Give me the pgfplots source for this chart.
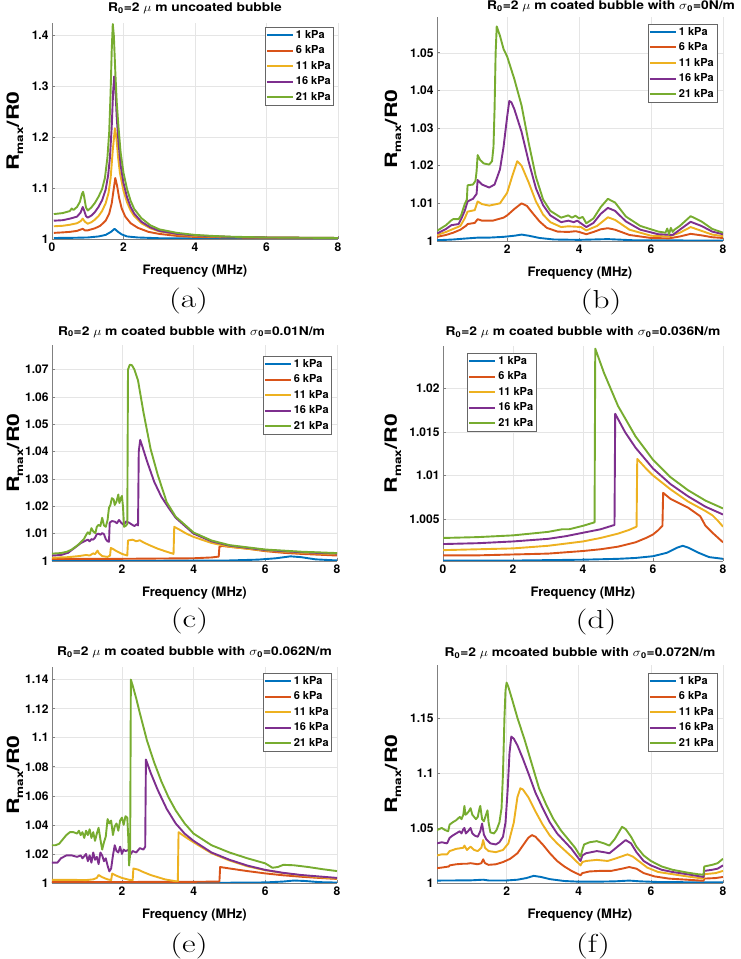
\documentclass[border=0pt]{standalone}
\usepackage{fontspec}
\setsansfont{TeX Gyre Heros}
\usepackage{graphicx}
\usepackage{pgfplots}
\pgfplotsset{compat=1.18}

\definecolor{c1}{rgb}{0,0.447,0.741}
\definecolor{c2}{rgb}{0.850,0.325,0.098}
\definecolor{c3}{rgb}{0.929,0.694,0.125}
\definecolor{c4}{rgb}{0.494,0.184,0.556}
\definecolor{c5}{rgb}{0.466,0.674,0.188}

\newcommand{\mf}[1]{\fontsize{#1}{#1}\selectfont\sffamily\bfseries}
\newcommand{\sub}[1]{\textsubscript{#1}}
\newcommand{\ttl}[1]{\scalebox{1.15}[1]{#1}}

\pgfplotsset{
  mat/.style={
    scale only axis,
    axis x line*=bottom, axis y line*=left,
    axis line style={black!50, line width=0.6pt},
    tick style={black!50, line width=0.6pt},
    tick align=inside, major tick length=3pt,
    grid=major, grid style={black!10, line width=0.5pt},
    xmax=8, scaled ticks=false,
    ticklabel style={font=\mf{12}},
    /pgf/number format/assume math mode=true,
    /pgf/number format/fixed,
    /pgf/number format/precision=3,
    xlabel={Frequency (MHz)},
    ylabel={\scalebox{1.35}[1]{R\raisebox{-0.45ex}{\fontsize{10}{10}\selectfont max}/R0}},
    xlabel style={font=\mf{13}, at={(axis description cs:0.5,0)}, anchor=center, yshift=-32pt},
    ylabel style={font=\mf{17}, anchor=center},
    title style={font=\mf{12}, at={(axis description cs:0.5,1)}, anchor=base, yshift=4pt},
    legend cell align=left,
    legend style={font=\mf{11}, draw=black!60, line width=0.5pt, inner sep=1pt, row sep=2pt},
    legend image code/.code={\draw[#1, line width=2pt] (0pt,0pt) -- (26pt,0pt);},
  },
  s1/.style={c1, line width=1.9pt, line join=round},
  s2/.style={c2, line width=1.9pt, line join=round},
  s3/.style={c3, line width=1.9pt, line join=round},
  s4/.style={c4, line width=1.9pt, line join=round},
  s5/.style={c5, line width=1.9pt, line join=round},
}

\begin{document}
\begin{tikzpicture}
\useasboundingbox (0pt,0pt) rectangle (740pt,959pt);

% ---------------- (a)
\begin{axis}[mat, at={(52pt,720pt)}, anchor=south west, width=286pt, height=216pt,
  xmin=0, ymin=1, ymax=1.425, xtick={0,2,4,6,8}, ytick={1,1.1,1.2,1.3,1.4},
  title={\ttl{R\sub{0}=2 $\mu$ m uncoated bubble}},
  title style={yshift=1pt},
  ylabel style={at={(axis description cs:-0.13,0.5)}},
  legend style={at={(rel axis cs:0.986,0.981)}, anchor=north east}]
\addplot[s1] coordinates {(0.05,1.002)(0.5,1.0022)(1.0,1.003)(1.3,1.005)(1.5,1.008)(1.65,1.014)(1.75,1.020)(1.85,1.014)(1.95,1.009)(2.1,1.005)(2.4,1.003)(3.0,1.0015)(4.0,1.001)(8.0,1.0005)};
\addplot[s2] coordinates {(0.05,1.012)(0.3,1.013)(0.5,1.014)(0.7,1.016)(0.86,1.020)(0.92,1.017)(1.0,1.017)(1.2,1.021)(1.35,1.026)(1.5,1.036)(1.6,1.05)(1.67,1.07)(1.72,1.095)(1.77,1.12)(1.82,1.105)(1.88,1.08)(1.95,1.06)(2.05,1.044)(2.2,1.031)(2.4,1.022)(2.7,1.014)(3.0,1.010)(3.5,1.006)(4.0,1.004)(5.0,1.003)(8.0,1.0015)};
\addplot[s3] coordinates {(0.05,1.025)(0.3,1.026)(0.5,1.028)(0.7,1.031)(0.8,1.035)(0.86,1.040)(0.92,1.034)(1.0,1.030)(1.1,1.033)(1.2,1.038)(1.3,1.045)(1.4,1.055)(1.5,1.07)(1.58,1.09)(1.64,1.12)(1.7,1.175)(1.76,1.218)(1.8,1.20)(1.85,1.16)(1.9,1.13)(2.0,1.095)(2.1,1.072)(2.2,1.056)(2.3,1.045)(2.5,1.031)(2.75,1.021)(3.0,1.015)(3.5,1.009)(4.0,1.006)(5.0,1.004)(6.0,1.003)(8.0,1.002)};
\addplot[s4] coordinates {(0.05,1.036)(0.3,1.037)(0.5,1.040)(0.6,1.042)(0.7,1.044)(0.8,1.052)(0.86,1.063)(0.9,1.056)(0.95,1.045)(1.0,1.042)(1.1,1.046)(1.2,1.053)(1.3,1.063)(1.4,1.076)(1.5,1.097)(1.57,1.125)(1.62,1.16)(1.67,1.22)(1.71,1.29)(1.74,1.32)(1.77,1.30)(1.81,1.24)(1.86,1.19)(1.92,1.145)(2.0,1.11)(2.1,1.082)(2.2,1.063)(2.3,1.05)(2.5,1.034)(2.75,1.023)(3.0,1.016)(3.5,1.010)(4.0,1.007)(5.0,1.004)(6.0,1.003)(8.0,1.002)};
\addplot[s5] coordinates {(0.05,1.049)(0.3,1.051)(0.5,1.055)(0.55,1.060)(0.6,1.057)(0.7,1.063)(0.78,1.073)(0.84,1.089)(0.87,1.093)(0.9,1.083)(0.95,1.062)(1.0,1.056)(1.1,1.062)(1.2,1.071)(1.3,1.083)(1.4,1.098)(1.48,1.12)(1.55,1.16)(1.6,1.21)(1.64,1.29)(1.67,1.37)(1.7,1.423)(1.73,1.40)(1.77,1.33)(1.81,1.27)(1.86,1.22)(1.92,1.17)(2.0,1.13)(2.1,1.098)(2.2,1.075)(2.3,1.059)(2.5,1.041)(2.75,1.027)(3.0,1.019)(3.5,1.012)(4.0,1.008)(4.5,1.006)(5.0,1.0045)(6.0,1.003)(7.0,1.0025)(8.0,1.002)};
\legend{1 kPa,6 kPa,11 kPa,16 kPa,21 kPa}
\end{axis}

% ---------------- (b)
\begin{axis}[mat, at={(437pt,718pt)}, anchor=south west, width=286pt, height=224pt,
  xmin=0.05, ymin=1, ymax=1.0595, xtick={2,4,6,8}, ytick={1,1.01,1.02,1.03,1.04,1.05},
  title={\ttl{R\sub{0}=2 $\mu$ m coated bubble with $\sigma$\sub{0}=0N/m}},
  title style={yshift=-3pt, xshift=31pt},
  ylabel style={at={(axis description cs:-0.154,0.5)}},
  legend style={at={(rel axis cs:0.979,0.969)}, anchor=north east}]
\addplot[s1] coordinates {(0.05,1.0002)(0.5,1.0004)(0.9,1.0007)(1.2,1.0009)(1.5,1.0009)(1.9,1.0011)(2.2,1.0014)(2.4,1.0017)(2.6,1.0014)(2.9,1.0008)(3.3,1.0004)(4.0,1.0003)(4.8,1.0005)(5.5,1.0002)(8,1.0001)};
\addplot[s2] coordinates {(0.05,1.0011)(0.3,1.0016)(0.5,1.0022)(0.7,1.0030)(0.85,1.0040)(0.9,1.0045)(1.1,1.0048)(1.18,1.0058)(1.3,1.0054)(1.6,1.0054)(1.9,1.0062)(2.0,1.0068)(2.2,1.0085)(2.4,1.0100)(2.55,1.0093)(2.7,1.0075)(2.9,1.0052)(3.1,1.0035)(3.4,1.0025)(3.7,1.0024)(3.9,1.0026)(4.0,1.0024)(4.2,1.0018)(4.4,1.0024)(4.6,1.0031)(4.8,1.0034)(5.0,1.0030)(5.4,1.0016)(6.0,1.0008)(6.5,1.0007)(6.8,1.0012)(7.1,1.0019)(7.4,1.0015)(7.7,1.0010)(8.0,1.0008)};
\addplot[s3] coordinates {(0.05,1.0016)(0.3,1.0024)(0.5,1.0032)(0.7,1.0040)(0.82,1.0060)(0.9,1.0078)(1.1,1.0082)(1.18,1.0105)(1.3,1.0098)(1.5,1.0094)(1.8,1.0100)(2.0,1.0128)(2.15,1.0175)(2.28,1.0212)(2.4,1.0200)(2.6,1.0155)(2.8,1.0105)(3.0,1.0070)(3.2,1.0050)(3.5,1.0037)(3.7,1.0039)(3.9,1.0038)(4.05,1.0037)(4.2,1.0028)(4.5,1.0040)(4.8,1.0063)(5.0,1.0056)(5.4,1.0030)(6.0,1.0014)(6.5,1.0012)(6.8,1.0022)(7.1,1.0037)(7.4,1.0027)(7.7,1.0017)(8.0,1.0013)};
\addplot[s4] coordinates {(0.05,1.0020)(0.3,1.0032)(0.45,1.0042)(0.65,1.0045)(0.72,1.0058)(0.82,1.0080)(0.9,1.0105)(1.05,1.0112)(1.15,1.0125)(1.18,1.0162)(1.3,1.0150)(1.5,1.0142)(1.65,1.0150)(1.8,1.0190)(1.9,1.0250)(2.0,1.0330)(2.06,1.0372)(2.12,1.0368)(2.2,1.0350)(2.4,1.0290)(2.6,1.0210)(2.8,1.0140)(3.0,1.0095)(3.2,1.0068)(3.5,1.0050)(3.7,1.0054)(3.85,1.0050)(3.95,1.0054)(4.05,1.0047)(4.2,1.0037)(4.4,1.0048)(4.6,1.0072)(4.8,1.0088)(5.0,1.0080)(5.3,1.0052)(5.7,1.0030)(6.2,1.0018)(6.6,1.0016)(6.8,1.0030)(7.1,1.0051)(7.4,1.0040)(7.7,1.0025)(8.0,1.0018)};
\addplot[s5] coordinates {(0.05,1.0027)(0.3,1.0042)(0.45,1.0055)(0.5,1.0058)(0.65,1.0058)(0.72,1.0068)(0.82,1.0098)(0.88,1.0110)(0.9,1.0148)(1.05,1.0150)(1.12,1.0160)(1.15,1.0185)(1.18,1.0228)(1.25,1.0215)(1.35,1.0206)(1.5,1.0203)(1.58,1.0212)(1.62,1.0250)(1.65,1.0350)(1.68,1.0500)(1.71,1.0570)(1.8,1.0545)(1.9,1.0510)(2.0,1.0490)(2.2,1.0430)(2.4,1.0360)(2.6,1.0260)(2.8,1.0170)(3.0,1.0110)(3.2,1.0080)(3.5,1.0062)(3.7,1.0068)(3.8,1.0062)(3.9,1.0067)(4.0,1.0060)(4.1,1.0064)(4.2,1.0047)(4.4,1.0060)(4.6,1.0090)(4.8,1.0112)(5.0,1.0102)(5.3,1.0065)(5.7,1.0040)(6.2,1.0025)(6.4,1.0022)(6.45,1.0033)(6.5,1.0018)(6.55,1.0035)(6.6,1.0024)(6.65,1.0030)(6.8,1.0040)(7.1,1.0066)(7.4,1.0052)(7.7,1.0032)(8.0,1.0022)};
\legend{1 kPa,6 kPa,11 kPa,16 kPa,21 kPa}
\end{axis}

% ---------------- (c)
\begin{axis}[mat, at={(52pt,398pt)}, anchor=south west, width=285pt, height=216pt,
  xmin=0.05, ymin=1, ymax=1.079, xtick={2,4,6,8}, ytick={1,1.01,1.02,1.03,1.04,1.05,1.06,1.07},
  title={\ttl{R\sub{0}=2 $\mu$ m coated bubble with $\sigma$\sub{0}=0.01N/m}},
  title style={xshift=-3pt},
  ylabel style={at={(axis description cs:-0.13,0.5)}},
  legend style={at={(rel axis cs:0.982,0.949)}, anchor=north east}]
\addplot[s1] coordinates {(0.05,1.0001)(3,1.0001)(5,1.0002)(5.8,1.0005)(6.3,1.0010)(6.7,1.0017)(7.0,1.0014)(7.4,1.0006)(8,1.0002)};
\addplot[s2] coordinates {(0.05,1.0008)(1.0,1.0008)(2.0,1.0008)(3.0,1.0009)(4.0,1.0010)(4.5,1.0013)(4.7,1.0016)(4.72,1.0052)(4.8,1.0055)(5.0,1.0052)(5.5,1.0045)(6.0,1.0036)(6.5,1.0030)(7.0,1.0026)(8.0,1.0020)};
\addplot[s3] coordinates {(0.05,1.0012)(0.5,1.0014)(0.8,1.0018)(1.0,1.0022)(1.1,1.0020)(1.2,1.0028)(1.25,1.0025)(1.32,1.0038)(1.36,1.0028)(1.45,1.0018)(1.6,1.0015)(1.67,1.0020)(1.69,1.0048)(1.75,1.0044)(1.85,1.0036)(2.0,1.0026)(2.15,1.0020)(2.17,1.0075)(2.3,1.0078)(2.4,1.0072)(2.5,1.0076)(2.6,1.0068)(2.8,1.0056)(3.0,1.0045)(3.2,1.0036)(3.44,1.0026)(3.46,1.0125)(3.6,1.0115)(3.8,1.0100)(4.0,1.0088)(4.5,1.0066)(5.0,1.0052)(6.0,1.0038)(7.0,1.0030)(8.0,1.0025)};
\addplot[s4] coordinates {(0.05,1.0020)(0.3,1.0022)(0.5,1.0030)(0.65,1.0045)(0.75,1.0055)(0.85,1.0065)(0.95,1.0072)(1.05,1.0078)(1.1,1.0072)(1.15,1.0080)(1.2,1.0078)(1.25,1.0085)(1.3,1.0098)(1.35,1.0100)(1.4,1.0096)(1.45,1.0102)(1.5,1.0098)(1.55,1.0080)(1.6,1.0072)(1.64,1.0070)(1.66,1.0140)(1.72,1.0146)(1.8,1.0144)(1.86,1.0138)(1.92,1.0150)(1.98,1.0140)(2.05,1.0132)(2.12,1.0145)(2.2,1.0140)(2.28,1.0133)(2.35,1.0128)(2.42,1.0135)(2.45,1.0130)(2.47,1.0400)(2.51,1.0443)(2.58,1.0415)(2.7,1.0365)(2.9,1.0290)(3.1,1.0235)(3.3,1.0195)(3.5,1.0158)(4.0,1.0100)(4.5,1.0072)(5.0,1.0056)(6.0,1.0040)(7.0,1.0032)(8.0,1.0027)};
\addplot[s5] coordinates {(0.05,1.0027)(0.3,1.0029)(0.47,1.0034)(0.6,1.0042)(0.74,1.0055)(0.85,1.0068)(0.95,1.0082)(1.0,1.0095)(1.05,1.0105)(1.1,1.0098)(1.15,1.0120)(1.2,1.0108)(1.26,1.0102)(1.3,1.0125)(1.35,1.0132)(1.4,1.0128)(1.45,1.0158)(1.5,1.0130)(1.55,1.0125)(1.6,1.0150)(1.64,1.0195)(1.68,1.0205)(1.72,1.0230)(1.77,1.0225)(1.8,1.0205)(1.85,1.0218)(1.9,1.0243)(1.93,1.0212)(1.97,1.0230)(2.0,1.0238)(2.03,1.0200)(2.06,1.0125)(2.1,1.0128)(2.15,1.0135)(2.17,1.0700)(2.22,1.0718)(2.28,1.0716)(2.35,1.0700)(2.45,1.0660)(2.6,1.0545)(2.8,1.0410)(3.0,1.0315)(3.25,1.0215)(3.5,1.0162)(4.0,1.0104)(4.5,1.0075)(5.0,1.0058)(6.0,1.0042)(7.0,1.0034)(8.0,1.0029)};
\legend{1 kPa,6 kPa,11 kPa,16 kPa,21 kPa}
\end{axis}

% ---------------- (d)
\begin{axis}[mat, at={(443pt,398pt)}, anchor=south west, width=280pt, height=215pt,
  xmin=0, ymin=1.00015, ymax=1.0249, xtick={0,2,4,6,8}, ytick={1.005,1.01,1.015,1.02},
  title={\ttl{R\sub{0}=2 $\mu$ m coated bubble with $\sigma$\sub{0}=0.036N/m}},
  ylabel style={at={(axis description cs:-0.179,0.5)}},
  legend style={at={(rel axis cs:0.086,0.967)}, anchor=north west}]
\addplot[s1] coordinates {(0,1.0002)(2,1.0002)(4,1.0003)(5,1.0004)(5.5,1.0005)(6.0,1.0007)(6.4,1.0011)(6.7,1.0017)(6.85,1.0019)(7.0,1.0017)(7.3,1.0011)(7.6,1.0006)(8.0,1.0004)};
\addplot[s2] coordinates {(0,1.0008)(1,1.0008)(2,1.0009)(3,1.0010)(4,1.0013)(4.5,1.0015)(5.0,1.0018)(5.5,1.0023)(5.8,1.0028)(6.0,1.0032)(6.15,1.0037)(6.27,1.0042)(6.29,1.0080)(6.5,1.0073)(7.0,1.0063)(7.35,1.0053)(7.5,1.0042)(7.7,1.0034)(8.0,1.0023)};
\addplot[s3] coordinates {(0,1.0014)(1,1.0015)(2,1.0016)(3,1.0019)(4,1.0024)(4.5,1.0028)(5.0,1.0033)(5.3,1.0037)(5.53,1.0041)(5.55,1.0119)(5.8,1.0108)(6.0,1.0100)(6.5,1.0084)(7.0,1.0070)(7.5,1.0059)(7.7,1.0054)(7.85,1.0048)(8.0,1.0041)};
\addplot[s4] coordinates {(0,1.0021)(1,1.0022)(2,1.0024)(3,1.0027)(3.5,1.0030)(4.0,1.0034)(4.5,1.0038)(4.9,1.0043)(4.92,1.0171)(5.2,1.0150)(5.5,1.0132)(6.0,1.0108)(6.5,1.0090)(7.0,1.0076)(7.5,1.0064)(8.0,1.0055)};
\addplot[s5] coordinates {(0,1.0028)(1,1.0029)(2,1.0031)(2.5,1.0033)(3.0,1.0035)(3.4,1.0038)(3.6,1.0038)(4.0,1.0042)(4.33,1.0046)(4.35,1.0246)(4.6,1.0218)(5.0,1.0180)(5.5,1.0145)(6.0,1.0118)(6.5,1.0098)(7.0,1.0083)(7.5,1.0071)(8.0,1.0062)};
\legend{1 kPa,6 kPa,11 kPa,16 kPa,21 kPa}
\end{axis}

% ---------------- (e)
\begin{axis}[mat, at={(52pt,76pt)}, anchor=south west, width=285pt, height=216pt,
  xmin=0.05, ymin=1, ymax=1.1487, xtick={2,4,6,8}, ytick={1,1.02,1.04,1.06,1.08,1.1,1.12,1.14},
  title={\ttl{R\sub{0}=2 $\mu$ m coated bubble with $\sigma$\sub{0}=0.062N/m}},
  title style={yshift=1pt},
  ylabel style={at={(axis description cs:-0.13,0.5)}},
  legend style={at={(rel axis cs:0.982,0.972)}, anchor=north east}]
\addplot[s1] coordinates {(0.05,1.0002)(5,1.0002)(6.0,1.0004)(6.5,1.0010)(6.8,1.0017)(7.1,1.0014)(7.5,1.0006)(8,1.0003)};
\addplot[s2] coordinates {(0.05,1.0007)(2,1.0007)(4,1.0008)(4.72,1.0010)(4.74,1.0110)(5.0,1.0100)(5.5,1.0082)(6.0,1.0066)(6.5,1.0053)(7.0,1.0043)(7.5,1.0035)(8.0,1.0028)};
\addplot[s3] coordinates {(0.05,1.0022)(0.5,1.0022)(1.0,1.0020)(1.2,1.0025)(1.3,1.0035)(1.35,1.0055)(1.45,1.0040)(1.6,1.0025)(1.7,1.0020)(1.73,1.0065)(1.85,1.0050)(2.0,1.0035)(2.2,1.0022)(2.3,1.0020)(2.32,1.0100)(2.45,1.0092)(2.6,1.0075)(2.8,1.0055)(3.0,1.0040)(3.2,1.0025)(3.5,1.0012)(3.56,1.0012)(3.58,1.0350)(3.75,1.0320)(4.0,1.0280)(4.5,1.0205)(5.0,1.0155)(5.5,1.0115)(6.0,1.0088)(6.5,1.0068)(7.0,1.0052)(7.5,1.0040)(8.0,1.0030)};
\addplot[s4] coordinates {(0.05,1.014)(0.2,1.014)(0.3,1.017)(0.45,1.019)(0.6,1.019)(0.75,1.018)(0.85,1.019)(0.9,1.017)(1.0,1.020)(1.05,1.015)(1.1,1.019)(1.15,1.014)(1.2,1.021)(1.25,1.016)(1.3,1.018)(1.35,1.013)(1.4,1.021)(1.45,1.019)(1.5,1.015)(1.55,1.017)(1.6,1.012)(1.65,1.008)(1.7,1.010)(1.75,1.019)(1.8,1.026)(1.85,1.022)(1.9,1.021)(1.95,1.025)(2.0,1.020)(2.05,1.023)(2.1,1.022)(2.2,1.023)(2.25,1.020)(2.3,1.022)(2.4,1.021)(2.5,1.024)(2.6,1.023)(2.65,1.025)(2.67,1.085)(2.8,1.076)(3.0,1.064)(3.25,1.051)(3.5,1.041)(3.75,1.034)(4.0,1.029)(4.5,1.021)(5.0,1.016)(5.5,1.012)(6.0,1.009)(6.5,1.007)(7.0,1.0055)(7.5,1.0045)(8.0,1.0035)};
\addplot[s5] coordinates {(0.05,1.026)(0.15,1.026)(0.25,1.027)(0.35,1.030)(0.45,1.033)(0.55,1.035)(0.65,1.035)(0.75,1.034)(0.8,1.036)(0.85,1.033)(0.9,1.035)(0.95,1.031)(1.0,1.036)(1.05,1.033)(1.1,1.037)(1.15,1.031)(1.2,1.035)(1.25,1.029)(1.3,1.034)(1.35,1.038)(1.4,1.030)(1.45,1.023)(1.5,1.028)(1.55,1.032)(1.6,1.044)(1.65,1.041)(1.7,1.043)(1.75,1.033)(1.8,1.039)(1.85,1.041)(1.9,1.036)(1.95,1.043)(2.0,1.045)(2.05,1.040)(2.1,1.046)(2.15,1.045)(2.18,1.030)(2.2,1.012)(2.23,1.020)(2.25,1.140)(2.3,1.136)(2.4,1.127)(2.5,1.117)(2.7,1.098)(2.9,1.083)(3.1,1.070)(3.3,1.059)(3.5,1.050)(3.75,1.041)(4.0,1.034)(4.5,1.026)(5.0,1.021)(5.5,1.017)(6.0,1.0135)(6.2,1.0105)(6.35,1.011)(6.5,1.0125)(6.8,1.0122)(7.2,1.011)(7.6,1.0095)(8.0,1.0082)};
\legend{1 kPa,6 kPa,11 kPa,16 kPa,21 kPa}
\end{axis}

% ---------------- (f)
\begin{axis}[mat, at={(437pt,76pt)}, anchor=south west, width=286pt, height=218pt,
  xmin=0.07, ymin=1, ymax=1.198, xtick={2,4,6,8}, ytick={1,1.05,1.1,1.15},
  title={\ttl{R\sub{0}=2 $\mu$ mcoated bubble with $\sigma$\sub{0}=0.072N/m}},
  title style={yshift=-2pt},
  ylabel style={at={(axis description cs:-0.154,0.5)}},
  legend style={at={(rel axis cs:0.979,0.963)}, anchor=north east}]
\addplot[s1] coordinates {(0.07,1.0022)(0.5,1.0023)(1.0,1.0024)(1.35,1.0030)(1.5,1.0023)(2.0,1.0023)(2.3,1.003)(2.55,1.0045)(2.75,1.0065)(2.95,1.0055)(3.2,1.0035)(3.6,1.0018)(4.0,1.0012)(4.5,1.0012)(5.0,1.0015)(5.4,1.0022)(5.7,1.0015)(6.2,1.0009)(7.0,1.0007)(8.0,1.0007)};
\addplot[s2] coordinates {(0.07,1.0135)(0.2,1.014)(0.4,1.015)(0.42,1.016)(0.6,1.017)(0.8,1.0175)(0.9,1.0175)(1.0,1.018)(1.2,1.017)(1.3,1.018)(1.35,1.0215)(1.4,1.018)(1.5,1.0165)(1.7,1.0170)(1.9,1.019)(2.1,1.022)(2.3,1.027)(2.45,1.034)(2.6,1.041)(2.7,1.0435)(2.8,1.042)(3.0,1.035)(3.2,1.027)(3.4,1.020)(3.6,1.015)(3.8,1.011)(4.05,1.007)(4.1,1.009)(4.3,1.0105)(4.6,1.011)(4.9,1.011)(5.2,1.013)(5.4,1.0145)(5.6,1.013)(5.8,1.009)(6.1,1.006)(6.5,1.004)(7.0,1.003)(7.46,1.002)(7.48,1.0040)(7.8,1.0045)(8.0,1.0055)};
\addplot[s3] coordinates {(0.07,1.025)(0.2,1.026)(0.35,1.026)(0.42,1.029)(0.6,1.031)(0.8,1.032)(0.83,1.034)(0.9,1.030)(1.0,1.033)(1.1,1.030)(1.2,1.029)(1.3,1.032)(1.35,1.039)(1.4,1.032)(1.5,1.029)(1.7,1.028)(1.9,1.030)(2.05,1.036)(2.2,1.055)(2.3,1.078)(2.38,1.086)(2.45,1.085)(2.6,1.078)(2.8,1.065)(3.0,1.053)(3.2,1.043)(3.4,1.036)(3.6,1.030)(3.8,1.024)(4.05,1.016)(4.1,1.019)(4.2,1.020)(4.5,1.021)(4.8,1.020)(5.0,1.022)(5.35,1.026)(5.5,1.024)(5.7,1.019)(5.9,1.014)(6.2,1.010)(6.6,1.008)(7.0,1.006)(7.46,1.004)(7.48,1.008)(7.8,1.009)(8.0,1.011)};
\addplot[s4] coordinates {(0.07,1.036)(0.2,1.037)(0.35,1.036)(0.42,1.041)(0.5,1.043)(0.6,1.045)(0.7,1.047)(0.75,1.045)(0.8,1.049)(0.83,1.050)(0.87,1.045)(0.93,1.047)(1.0,1.050)(1.05,1.045)(1.12,1.043)(1.2,1.042)(1.27,1.047)(1.32,1.054)(1.37,1.044)(1.43,1.040)(1.55,1.036)(1.7,1.035)(1.8,1.037)(1.9,1.042)(1.97,1.055)(2.03,1.085)(2.08,1.118)(2.13,1.133)(2.2,1.131)(2.3,1.125)(2.45,1.113)(2.6,1.100)(2.8,1.082)(3.0,1.068)(3.2,1.055)(3.4,1.045)(3.6,1.038)(3.8,1.031)(4.05,1.020)(4.1,1.025)(4.2,1.027)(4.5,1.029)(4.7,1.028)(4.85,1.027)(5.0,1.031)(5.3,1.039)(5.45,1.036)(5.6,1.028)(5.8,1.020)(6.0,1.016)(6.3,1.012)(6.6,1.010)(7.0,1.008)(7.46,1.0055)(7.48,1.0110)(7.7,1.0120)(7.85,1.0130)(8.0,1.0160)};
\addplot[s5] coordinates {(0.07,1.048)(0.2,1.050)(0.3,1.048)(0.38,1.047)(0.42,1.053)(0.5,1.055)(0.6,1.057)(0.7,1.060)(0.75,1.058)(0.8,1.062)(0.83,1.070)(0.86,1.062)(0.9,1.063)(0.95,1.065)(1.0,1.068)(1.05,1.062)(1.1,1.060)(1.15,1.058)(1.2,1.060)(1.25,1.068)(1.27,1.070)(1.32,1.058)(1.37,1.056)(1.43,1.062)(1.47,1.066)(1.5,1.055)(1.55,1.046)(1.65,1.045)(1.72,1.048)(1.8,1.055)(1.86,1.068)(1.9,1.100)(1.94,1.150)(1.97,1.175)(2.0,1.182)(2.05,1.178)(2.15,1.167)(2.3,1.150)(2.5,1.130)(2.7,1.108)(2.9,1.086)(3.1,1.071)(3.3,1.058)(3.5,1.048)(3.7,1.040)(3.9,1.032)(4.05,1.024)(4.1,1.030)(4.15,1.035)(4.3,1.037)(4.5,1.038)(4.7,1.036)(4.85,1.034)(5.0,1.040)(5.2,1.051)(5.3,1.049)(5.45,1.042)(5.6,1.033)(5.8,1.025)(6.0,1.020)(6.3,1.015)(6.6,1.012)(7.0,1.0095)(7.3,1.008)(7.46,1.0075)(7.48,1.0150)(7.7,1.0165)(7.85,1.018)(8.0,1.022)};
\legend{1 kPa,6 kPa,11 kPa,16 kPa,21 kPa}
\end{axis}

% sub-figure captions
\node[font=\fontsize{26}{26}\selectfont] at (188.5pt,657.5pt) {\scalebox{1.28}[1]{(a)}};
\node[font=\fontsize{26}{26}\selectfont] at (601pt,657pt) {\scalebox{1.28}[1]{(b)}};
\node[font=\fontsize{26}{26}\selectfont] at (189.5pt,337.5pt) {\scalebox{1.28}[1]{(c)}};
\node[font=\fontsize{26}{26}\selectfont] at (596pt,337pt) {\scalebox{1.28}[1]{(d)}};
\node[font=\fontsize{26}{26}\selectfont] at (189pt,13pt) {\scalebox{1.28}[1]{(e)}};
\node[font=\fontsize{26}{26}\selectfont] at (593pt,13pt) {\scalebox{1.28}[1]{(f)}};
\end{tikzpicture}
\end{document}
